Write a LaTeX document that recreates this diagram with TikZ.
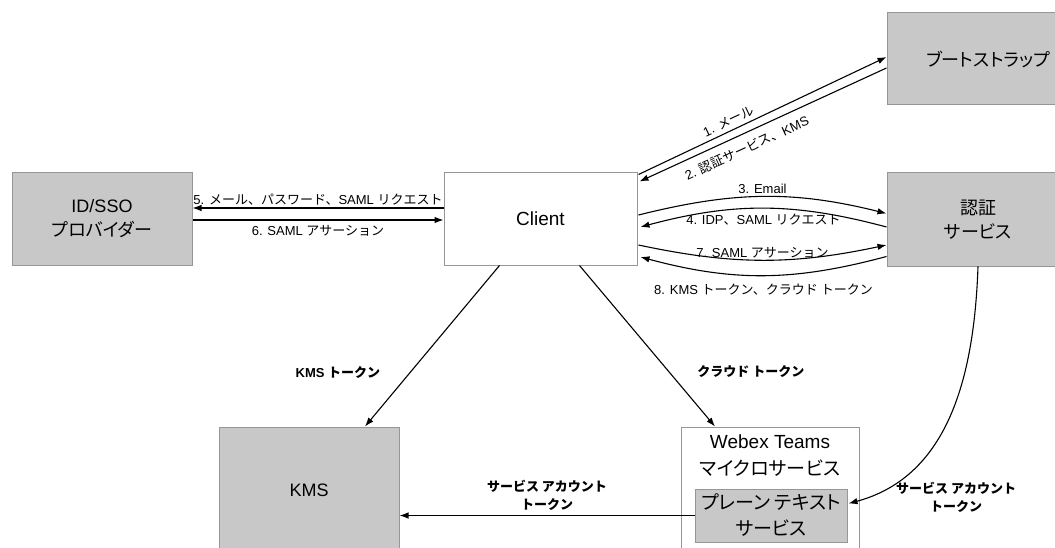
\documentclass[tikz,border=0pt]{standalone}
\usepackage{fontspec}
\setmainfont{Liberation Sans}
\newfontfamily\jp{Noto Sans CJK JP}[RawFeature={+palt}]
\newfontfamily\jl{Noto Sans CJK JP}
\usetikzlibrary{arrows.meta,calc}
\definecolor{boxfill}{RGB}{200,200,200}
\definecolor{boxline}{RGB}{150,150,150}
\begin{document}
\begin{tikzpicture}[x=1pt,y=1pt,
  graybox/.style={draw=boxline, fill=boxfill, line width=1pt, inner sep=0pt},
  whitebox/.style={draw=boxline, fill=white, line width=1pt, inner sep=0pt},
  arr/.style={-{Latex[length=9pt,width=6.5pt]}, line width=1.1pt},
  lab/.style={font=\fontsize{13}{15}\selectfont, inner sep=1pt},
  blab/.style={font=\bfseries\fontsize{13}{18}\selectfont, align=center, inner sep=1pt},
  boxtext/.style={font=\fontsize{18}{24}\selectfont, align=center}]
\useasboundingbox (0,0) rectangle (1055,-548);
% boxes
\node[graybox, boxtext, minimum width=202, minimum height=92] (boot) at (988,-59) {{\jp ブートストラップ}};
\node[graybox, boxtext, minimum width=182, minimum height=93] (auth) at (978,-219.5) {{\jp 認証}\\{\jp サービス}};
\node[whitebox, font=\fontsize{19}{22}\selectfont, minimum width=193, minimum height=92] (client) at (540.5,-219) {Client};
\node[graybox, boxtext, minimum width=180, minimum height=92] (id) at (102,-219) {ID/SSO\\{\jp プロバイダー}};
\node[graybox, boxtext, minimum width=180, minimum height=126] (kms) at (309,-490) {KMS};
\node[whitebox, minimum width=178, minimum height=126] (webex) at (770,-490) {};
\node[font=\fontsize{19}{27}\selectfont, align=center] (webextitle) at (770,-456) {Webex Teams\\{\jp マイクロサービス}};
\node[graybox, font=\fontsize{19}{26}\selectfont, align=center, minimum width=152, minimum height=53] (plain) at (771,-515.5) {{\jp プレーン テキスト}\\{\jp サービス}};
% client <-> bootstrap
\draw[arr] ($(client.north east)+(1,-2)$) -- node[lab, pos=0.38, above=3pt, sloped] {1. {\jl メール}} ($(boot.west)+(0,2)$);
\draw[arr] ($(boot.west)+(0,-9)$) -- node[lab, pos=0.59, below=7pt, sloped] {2. {\jl 認証サービス、}KMS} ($(client.north east)+(2,-9)$);
% client <-> auth
\draw[arr] ($(client.east)+(1,4)$) to[out=14,in=166] node[lab, above=1pt] {3. Email} ($(auth.west)+(0,6)$);
\draw[arr] ($(auth.west)+(0,-7.5)$) to[out=165,in=15] node[lab, below=4pt] {4. IDP{\jl 、}SAML {\jl リクエスト}} ($(client.east)+(3,-8)$);
\draw[arr] ($(client.east)+(1,-26)$) to[out=-12,in=-168] node[lab, above=0pt] {7. SAML {\jl アサーション}} ($(auth.west)+(0,-25.5)$);
\draw[arr] ($(auth.west)+(0,-37)$) to[out=-165,in=-15] node[lab, below=7pt] {8. KMS {\jl トークン、クラウド トークン}} ($(client.east)+(3,-38)$);
% client <-> id
\draw[arr] ($(client.west)+(0,11)$) -- node[lab, above=1pt] {5. {\jl メール、パスワード、}SAML {\jl リクエスト}} ($(id.east)+(0,11)$);
\draw[arr] ($(id.east)+(0,-1)$) -- node[lab, below=4pt] {6. SAML {\jl アサーション}} ($(client.west)+(0,-1)$);
% tokens
\draw[arr] ($(client.south west)+(56,0)$) -- node[blab, pos=0.667, left=28pt] {KMS {\jl トークン}} ($(kms.north)+(56,0)$);
\draw[arr] ($(client.south west)+(136,0)$) -- node[blab, pos=0.66, right=27pt] {{\jl クラウド トークン}} ($(webex.north)+(-55,0)$);
\draw[arr] (auth.south) to[out=-92,in=15] node[blab, at end, anchor=west, xshift=46pt, yshift=6pt] {{\jl サービス アカウント}\\{\jl トークン}} ($(plain.east)+(1,12)$);
\draw[arr] (plain.west) -- node[blab, above=3pt] {{\jl サービス アカウント}\\{\jl トークン}} (plain.west -| kms.east);
\end{tikzpicture}
\end{document}
